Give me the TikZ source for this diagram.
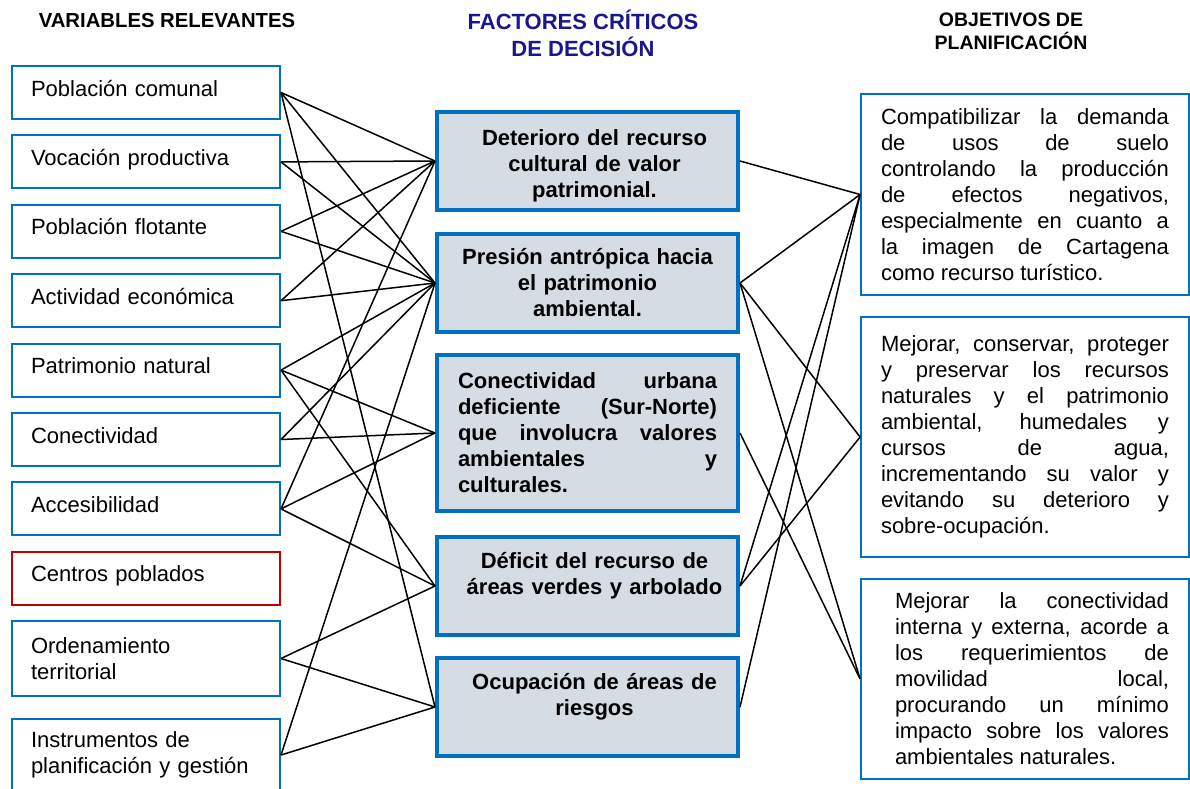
\documentclass[tikz,border=0pt]{standalone}
\usepackage{fontspec}
\setmainfont{Liberation Sans}
\definecolor{bordeazul}{RGB}{0,112,192}
\definecolor{borderojo}{RGB}{192,0,0}
\definecolor{fondogris}{RGB}{214,220,228}
\definecolor{tituloazul}{RGB}{24,24,140}
\newcommand{\sangria}{\hspace*{14pt}}
\hbadness=10000
\begin{document}
\begin{tikzpicture}[x=1pt,y=-1pt,
    cajavar/.style={draw=bordeazul,line width=2pt,minimum width=268pt,minimum height=53pt,
        text width=230pt,inner xsep=19pt,align=left,font=\fontsize{22}{26}\selectfont},
    unalinea/.style={text height=12pt,text depth=5pt},
    cajafcd/.style={draw=bordeazul,fill=fondogris,line width=4pt,minimum width=301pt,minimum height=98pt,
        text width=280pt,inner xsep=0pt,align=center,font=\bfseries\fontsize{22}{26}\selectfont},
    cajaobj/.style={draw=bordeazul,line width=1.8pt,minimum width=328pt,
        text width=288pt,inner xsep=20pt,align=justify,font=\fontsize{22}{26}\selectfont},
    titulo/.style={font=\bfseries\fontsize{19.5}{23}\selectfont,align=center},
    enlace/.style={line width=1.5pt}]
    \useasboundingbox (0,0) rectangle (1190,788);

    \node[titulo,font=\bfseries\fontsize{20.3}{23}\selectfont] (tvar) at (167,21) {VARIABLES RELEVANTES};
    \node[titulo,text=tituloazul,font=\bfseries\fontsize{22}{27}\selectfont] (tfcd) at (583,33) {FACTORES CRÍTICOS\\DE DECISIÓN};
    \node[titulo] (tobj) at (1011,31.5) {OBJETIVOS DE\\PLANIFICACIÓN};

    \node[cajavar,unalinea] (var1) at (146,92.5) {Población comunal};
    \node[cajavar,unalinea] (var2) at (146,161.9) {Vocación productiva};
    \node[cajavar,unalinea] (var3) at (146,231.3) {Población flotante};
    \node[cajavar,unalinea] (var4) at (146,300.7) {Actividad económica};
    \node[cajavar,unalinea] (var5) at (146,370.1) {Patrimonio natural};
    \node[cajavar,unalinea] (var6) at (146,439.5) {Conectividad};
    \node[cajavar,unalinea] (var7) at (146,508.9) {Accesibilidad};
    \node[cajavar,unalinea,draw=borderojo] (var8) at (146,578.3) {Centros poblados};
    \node[cajavar,minimum height=75pt] (var9) at (146,658.5) {Ordenamiento\\territorial};
    \node[cajavar,minimum height=72pt] (var10) at (146,755) {Instrumentos de\\planificación y gestión};

    \node[cajafcd] (fcd1) at (587.5,161) {\rule{0pt}{26pt}\sangria Deterioro del recurso\\\sangria cultural de valor\\\sangria patrimonial.};
    \node[cajafcd] (fcd2) at (587.5,283) {Presión antrópica hacia\\el patrimonio\\ambiental.};
    \node[cajafcd,minimum height=156pt,text width=259pt,align=justify] (fcd3) at (587.5,433) {Conectividad urbana\linebreak deficiente (Sur-Norte)\linebreak que involucra valores\linebreak ambientales y\linebreak culturales.};
    \node[cajafcd] (fcd4) at (587.5,586) {\sangria Déficit del recurso de\\\sangria áreas verdes y arbolado\\~};
    \node[cajafcd] (fcd5) at (587.5,707) {\sangria Ocupación de áreas de\\\sangria riesgos\\~};

    \node[cajaobj,minimum height=201pt] (obj1) at (1025,194.5) {Compatibilizar la demanda\linebreak de usos de suelo\linebreak controlando la producción\linebreak de efectos negativos,\linebreak especialmente en cuanto a\linebreak la imagen de Cartagena\linebreak como recurso turístico.};
    \node[cajaobj,minimum height=240pt] (obj2) at (1025,437) {Mejorar, conservar, proteger\linebreak y preservar los recursos\linebreak naturales y el patrimonio\linebreak ambiental, humedales y\linebreak cursos de agua,\linebreak incrementando su valor y\linebreak evitando su deterioro y\linebreak sobre-ocupación.};
    \node[cajaobj,minimum height=200pt] (obj3) at (1025,679) {\sangria Mejorar la conectividad\linebreak\sangria interna y externa, acorde a\linebreak\sangria los requerimientos de\linebreak\sangria movilidad local,\linebreak\sangria procurando un mínimo\linebreak\sangria impacto sobre los valores\linebreak\sangria ambientales naturales.};

    \draw[enlace] (var1.east) -- (fcd1.west);
    \draw[enlace] (var1.east) -- (fcd2.west);
    \draw[enlace] (var1.east) -- (fcd5.west);
    \draw[enlace] (var2.east) -- (fcd1.west);
    \draw[enlace] (var2.east) -- (fcd2.west);
    \draw[enlace] (var3.east) -- (fcd1.west);
    \draw[enlace] (var3.east) -- (fcd2.west);
    \draw[enlace] (var4.east) -- (fcd1.west);
    \draw[enlace] (var4.east) -- (fcd2.west);
    \draw[enlace] (var5.east) -- (fcd2.west);
    \draw[enlace] (var5.east) -- (fcd3.west);
    \draw[enlace] (var5.east) -- (fcd4.west);
    \draw[enlace] (var6.east) -- (fcd2.west);
    \draw[enlace] (var6.east) -- (fcd3.west);
    \draw[enlace] (var7.east) -- (fcd1.west);
    \draw[enlace] (var7.east) -- (fcd3.west);
    \draw[enlace] (var7.east) -- (fcd4.west);
    \draw[enlace] (var9.east) -- (fcd4.west);
    \draw[enlace] (var9.east) -- (fcd5.west);
    \draw[enlace] (var10.east) -- (fcd2.west);
    \draw[enlace] (var10.east) -- (fcd5.west);

    \draw[enlace] (fcd1.east) -- (obj1.west);
    \draw[enlace] (fcd2.east) -- (obj1.west);
    \draw[enlace] (fcd2.east) -- (obj2.west);
    \draw[enlace] (fcd2.east) -- (obj3.west);
    \draw[enlace] (fcd3.east) -- (obj3.west);
    \draw[enlace] (fcd4.east) -- (obj1.west);
    \draw[enlace] (fcd4.east) -- (obj2.west);
    \draw[enlace] (fcd5.east) -- (obj1.west);
\end{tikzpicture}
\end{document}
